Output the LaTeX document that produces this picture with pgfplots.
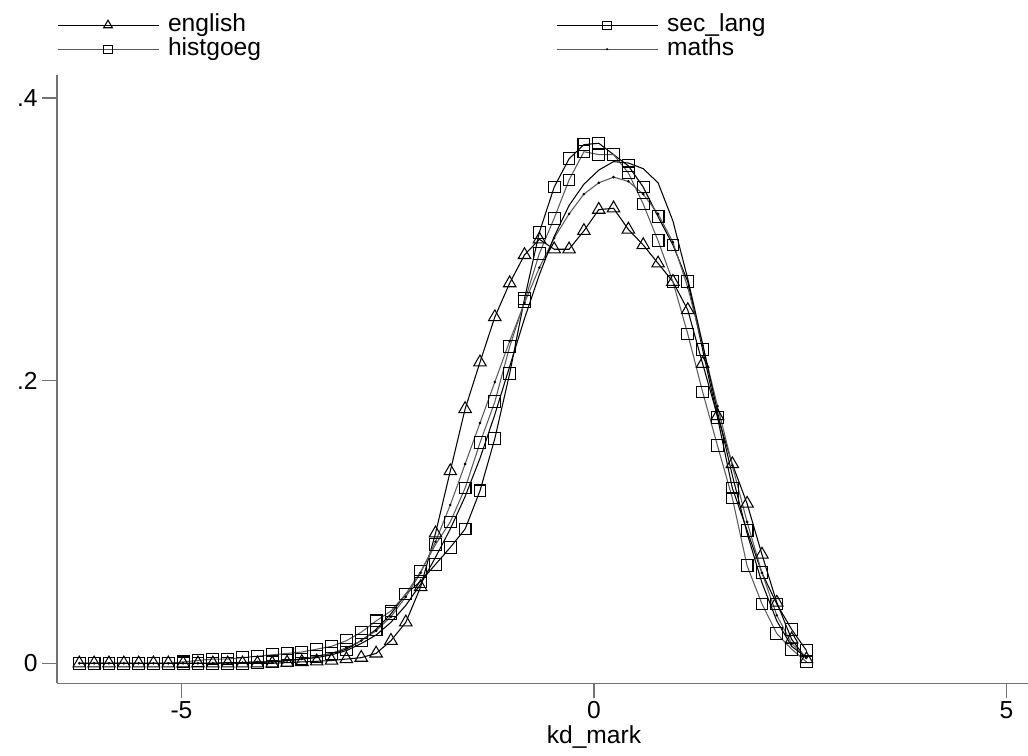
\documentclass[border=0pt]{standalone}
\usepackage{fontspec}
\setmainfont{Liberation Sans}
\usepackage{pgfplots}
\pgfplotsset{compat=1.18}
\usepackage{pgfplotstable}

% kernel density estimates, 50 points each (x, then one column per variable)
\pgfplotstableread{
x eng sec hist maths other
-6.239 0 0 0 0 0
-6.059 0 0 0 0 0
-5.879 0 0 0 0 0
-5.699 0 0 0 0 0
-5.519 0 0 0 0 0
-5.340 0 0 0 0 0
-5.160 0 0 0 0 0
-4.980 0 0 0.001 0 0
-4.800 0 0 0.002 0 0
-4.620 0 0 0.003 0 0
-4.440 0 0 0.003 0 0.0005
-4.260 0 0 0.004 0.0005 0.0005
-4.080 0 0.0005 0.005 0.001 0.001
-3.900 0 0.001 0.006 0.001 0.001
-3.720 0.0005 0.002 0.007 0.002 0.002
-3.541 0.001 0.003 0.008 0.003 0.003
-3.361 0.0014 0.005 0.010 0.005 0.004
-3.181 0.002 0.007 0.012 0.007 0.006
-3.001 0.003 0.010 0.016 0.011 0.009
-2.821 0.004 0.016 0.022 0.016 0.014
-2.641 0.007 0.024 0.030 0.023 0.020
-2.461 0.016 0.035 0.037 0.033 0.029
-2.281 0.029 0.049 0.049 0.047 0.041
-2.101 0.054 0.058 0.065 0.064 0.056
-1.921 0.092 0.070 0.084 0.086 0.075
-1.742 0.136 0.082 0.100 0.112 0.095
-1.562 0.180 0.095 0.124 0.141 0.118
-1.382 0.213 0.122 0.156 0.170 0.145
-1.202 0.245 0.159 0.185 0.199 0.176
-1.022 0.269 0.205 0.224 0.228 0.210
-0.842 0.289 0.258 0.256 0.255 0.244
-0.662 0.300 0.305 0.290 0.280 0.275
-0.482 0.293 0.337 0.315 0.301 0.302
-0.302 0.293 0.357 0.342 0.318 0.324
-0.122 0.306 0.367 0.362 0.332 0.339
0.058 0.321 0.368 0.360 0.340 0.349
0.237 0.322 0.360 0.360 0.344 0.355
0.417 0.307 0.352 0.347 0.341 0.354
0.597 0.296 0.337 0.325 0.332 0.350
0.777 0.283 0.316 0.299 0.318 0.340
0.957 0.270 0.296 0.270 0.298 0.313
1.137 0.250 0.270 0.233 0.266 0.272
1.317 0.212 0.222 0.192 0.225 0.226
1.497 0.175 0.174 0.154 0.182 0.178
1.677 0.141 0.124 0.117 0.140 0.133
1.856 0.113 0.094 0.069 0.100 0.092
2.036 0.077 0.064 0.042 0.064 0.057
2.216 0.043 0.042 0.021 0.034 0.030
2.396 0.017 0.024 0.010 0.014 0.012
2.576 0.003 0.009 0.001 0.004 0.004
}\kdtab

\newcommand{\fnt}{\fontsize{14}{16}\selectfont}

\begin{document}
\begin{tikzpicture}
\path[use as bounding box] (0,0) rectangle (20.56cm,15.10cm);
\begin{axis}[
  at={(1.14cm,1.434cm)}, anchor=south west,
  scale only axis, width=19.42cm, height=12.166cm,
  xmin=-6.509, xmax=5.261, ymin=-0.01415, ymax=0.4163,
  axis x line*=bottom, axis y line*=left,
  axis line style={black!55, line width=0.6pt, -},
  tick align=outside, major tick length=0.3cm,
  tick style={black!55, line width=0.6pt},
  xtick={-5,0,5}, xticklabels={-5,0,5},
  ytick={0,0.2,0.4}, yticklabels={0,.2,.4},
  /pgf/number format/assume math mode=true,
  tick label style={font=\fnt},
  xticklabel style={inner sep=0pt, yshift=-0.06cm},
  yticklabel style={anchor=east, inner sep=0pt, xshift=-0.08cm},
  xlabel={kd\_mark},
  xlabel style={font=\fnt, at={(axis description cs:0.553,-0.0686)}, anchor=north, inner sep=0pt},
  legend columns=2,
  legend cell align=left,
  legend style={draw=none, fill=none, font=\fnt,
    at={(axis description cs:0,1.1011)}, anchor=north west,
    inner sep=0pt, outer sep=0pt,
    nodes={inner sep=0pt, text height=0.36cm, text depth=0.11cm},
    row sep=0.01cm,
    /tikz/every odd column/.append style={column sep=0.18cm}},
  legend image code/.code={\draw[mark repeat=2,mark phase=2,#1]
    plot coordinates {(0cm,0cm) (1.01cm,0cm) (2.02cm,0cm)};},
  every legend image post/.style={every mark/.append style={scale=0.7}},
  clip=false,
]
\addplot[black, line width=0.6pt, mark=triangle, mark size=0.144cm,
  mark options={solid, line width=0.6pt}] table[x=x, y=eng] {\kdtab};
\addlegendentry{\makebox[7.76cm][l]{english}}
\addplot[black, line width=0.6pt, mark=square, mark size=0.118cm,
  mark options={solid, line width=0.6pt, black}] table[x=x, y=sec] {\kdtab};
\addlegendentry{sec\_lang}
\addplot[black!65, line width=0.6pt, mark=square, mark size=0.118cm,
  mark options={solid, line width=0.6pt, black}] table[x=x, y=hist] {\kdtab};
\addlegendentry{\makebox[7.76cm][l]{histgoeg}}
\addplot[black!65, line width=0.6pt, mark=*, mark size=0.4pt,
  mark options={black}] table[x=x, y=maths] {\kdtab};
\addlegendentry{maths}
\addplot[black, line width=0.6pt, forget plot] table[x=x, y=other] {\kdtab};
\end{axis}
\end{tikzpicture}
\end{document}
